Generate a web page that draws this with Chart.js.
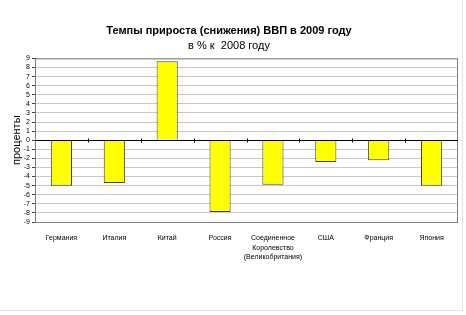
<!DOCTYPE html>
<html>
<head>
<meta charset="utf-8">
<script src="https://cdn.jsdelivr.net/npm/chart.js@4.4.1/dist/chart.umd.min.js"></script>
<style>
    html, body { margin: 0; padding: 0; background: #fff; }
    #wrap { position: relative; width: 466px; height: 315px; }
    #frame {
        position: absolute; left: 0; top: 0; width: 462px; height: 310px;
        border-right: 1px solid #e4e4e4; border-bottom: 1px solid #e4e4e4;
        pointer-events: none;
    }
</style>
</head>
<body>
<div id="wrap"><canvas id="gdpChart" width="466" height="315"></canvas><div id="frame"></div></div>
<script>
const countries = ['Германия', 'Италия', 'Китай', 'Россия',
    ['Соединенное', 'Королевство', '(Великобритания)'], 'США', 'Франция', 'Япония'];
const growth = [-5.0, -4.7, 8.7, -7.9, -4.9, -2.4, -2.2, -5.0];
const yMin = -9;
const yMax = 9;

const FONT = 'Arial, "Liberation Sans", sans-serif';

// plot frame + small ticks on the zero line between categories
const frameAndZeroTicks = {
    id: 'frameAndZeroTicks',
    beforeDatasetsDraw(chart) {
        const { ctx, chartArea: a } = chart;
        ctx.save();
        ctx.strokeStyle = '#808080';
        ctx.lineWidth = 1;
        ctx.strokeRect(a.left + 0.5, a.top + 0.5, a.right - a.left - 1, a.bottom - a.top);
        ctx.restore();
    },
    afterDatasetsDraw(chart) {
        const { ctx, chartArea: a, scales } = chart;
        const y0 = Math.round(scales.y.getPixelForValue(0)) + 0.5;
        ctx.save();
        ctx.strokeStyle = '#000';
        ctx.lineWidth = 1;
        ctx.beginPath();
        ctx.moveTo(a.left, y0);
        ctx.lineTo(a.right, y0);
        const step = (a.right - a.left) / countries.length;
        for (let i = 1; i < countries.length; i++) {
            const x = Math.round(a.left + step * i) + 0.5;
            ctx.moveTo(x, y0 - 2);
            ctx.lineTo(x, y0 + 2);
        }
        ctx.stroke();
        ctx.restore();
    }
};

new Chart(document.getElementById('gdpChart'), {
    type: 'bar',
    data: {
        labels: countries,
        datasets: [{
            data: growth,
            backgroundColor: '#ffff00',
            borderColor: '#404040',
            borderWidth: 1,
            barPercentage: 0.4,
            categoryPercentage: 1.0,
        }]
    },
    options: {
        responsive: false,
        animation: false,
        layout: { padding: { top: 24, right: 8, left: 0, bottom: 0 } },
        plugins: {
            legend: { display: false },
            tooltip: { enabled: false },
            title: {
                display: true,
                text: 'Темпы прироста (снижения) ВВП в 2009 году',
                color: '#000',
                font: { family: FONT, size: 11, weight: 'bold' },
                padding: { top: 0, bottom: 2 }
            },
            subtitle: {
                display: true,
                text: 'в % к  2008 году',
                color: '#000',
                font: { family: FONT, size: 11 },
                padding: { top: 0, bottom: 6 }
            }
        },
        scales: {
            x: {
                grid: { display: false },
                border: { display: false },
                ticks: {
                    color: '#000',
                    font: { family: FONT, size: 7, lineHeight: 1.4 },
                    maxRotation: 0,
                    autoSkip: false,
                    padding: 3
                },
                afterFit: s => { s.height = 93; }
            },
            y: {
                min: yMin,
                max: yMax,
                grid: {
                    color: ctx => ctx.tick && ctx.tick.value === 0 ? '#000' : '#c8c8c8',
                    tickColor: '#404040',
                    tickLength: 3
                },
                border: { display: true, color: '#404040' },
                ticks: {
                    stepSize: 1,
                    autoSkip: false,
                    color: '#000',
                    font: { family: FONT, size: 7 },
                    padding: 2
                },
                title: {
                    display: true,
                    text: 'проценты',
                    color: '#000',
                    font: { family: FONT, size: 11 },
                    padding: { top: 10, bottom: 0 }
                },
                afterFit: s => { s.width = 35; }
            }
        }
    },
    plugins: [frameAndZeroTicks]
});
</script>
</body>
</html>
